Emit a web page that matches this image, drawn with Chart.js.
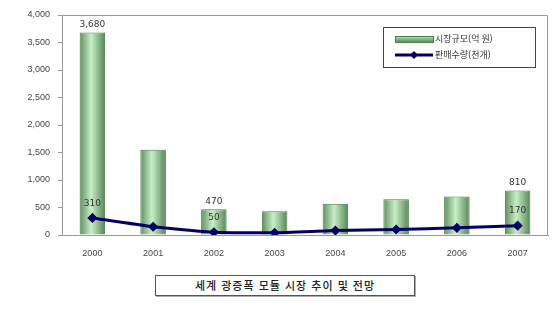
<!DOCTYPE html>
<html lang="ko">
<head>
<meta charset="UTF-8">
<title>세계 광증폭 모듈 시장 추이 및 전망</title>
<script src="https://cdn.jsdelivr.net/npm/chart.js"></script>
<style>
  body { margin: 0; background: #fff; font-family: "Noto Sans CJK KR", sans-serif; }
  #wrap { position: relative; width: 557px; height: 265px; }
  #caption {
    position: absolute; left: 155px; top: 275px; width: 258px; height: 19px;
    border: 1px solid #555; box-shadow: 1px 1px 0 #aaa;
    font-size: 11px; line-height: 19px; text-align: center; color: #222; letter-spacing: 1px;
    font-weight: 500;
  }
</style>
</head>
<body>
<div id="wrap"><canvas id="chart" width="557" height="265"></canvas></div>
<div id="caption">세계 광증폭 모듈 시장 추이 및 전망</div>
<script>
// 연도
const years = ["2000", "2001", "2002", "2003", "2004", "2005", "2006", "2007"];
// 시장규모(억 원)
const marketSize = [3680, 1550, 470, 430, 570, 650, 700, 810];
// 판매수량(천개)
const salesQty = [310, 150, 50, 40, 80, 100, 130, 170];
const yTicks = [0, 500, 1000, 1500, 2000, 2500, 3000, 3500, 4000];
// 값 표시할 위치
const barLabelIdx = [0, 2, 7];
const lineLabelIdx = [0, 2, 7];

function barGradient(ctx) {
  const chart = ctx.chart;
  const xs = chart.scales.x;
  if (!xs || ctx.dataIndex === undefined) return "#9fd49f";
  const cx = xs.getPixelForValue(ctx.dataIndex);
  const w = xs.width / years.length * 0.42;
  if (!isFinite(cx) || !isFinite(w) || w <= 0) return "#9fd49f";
  const g = chart.ctx.createLinearGradient(cx - w / 2, 0, cx + w / 2, 0);
  g.addColorStop(0, "#5f8f5f");
  g.addColorStop(0.45, "#c8efc8");
  g.addColorStop(1, "#558555");
  return g;
}

const labelPlugin = {
  id: "labels",
  afterDatasetsDraw(chart) {
    const c = chart.ctx;
    c.save();
    c.font = "9px 'DejaVu Sans', sans-serif";
    c.fillStyle = "#333";
    c.textAlign = "center";
    const bars = chart.getDatasetMeta(0).data;
    barLabelIdx.forEach(i => {
      c.textBaseline = "bottom";
      c.fillText(marketSize[i].toLocaleString("en-US"), bars[i].x, bars[i].y - 3);
    });
    const pts = chart.getDatasetMeta(1).data;
    lineLabelIdx.forEach(i => {
      c.textBaseline = "bottom";
      c.fillText(String(salesQty[i]), pts[i].x, pts[i].y - 10);
    });
    // legend box
    const lx = 383, ly = 27, lw = 152, lh = 40;
    c.fillStyle = "#fff";
    c.fillRect(lx, ly, lw, lh);
    c.strokeStyle = "#444";
    c.lineWidth = 1;
    c.strokeRect(lx + 0.5, ly + 0.5, lw, lh);
    c.font = "9px 'Noto Sans CJK KR', sans-serif";
    c.textAlign = "left";
    c.textBaseline = "middle";
    const g = c.createLinearGradient(0, ly + 8, 0, ly + 15);
    g.addColorStop(0, "#c8efc8");
    g.addColorStop(1, "#5f8f5f");
    c.fillStyle = g;
    c.fillRect(lx + 12, ly + 9, 38, 6);
    c.strokeStyle = "#4f7f4f";
    c.strokeRect(lx + 12.5, ly + 9.5, 38, 6);
    c.fillStyle = "#333";
    c.fillText(chart.data.datasets[0].label, lx + 52, ly + 12);
    c.strokeStyle = "#000066";
    c.lineWidth = 3;
    c.beginPath();
    c.moveTo(lx + 12, ly + 28);
    c.lineTo(lx + 50, ly + 28);
    c.stroke();
    c.fillStyle = "#000066";
    c.beginPath();
    c.moveTo(lx + 31, ly + 24); c.lineTo(lx + 35, ly + 28); c.lineTo(lx + 31, ly + 32); c.lineTo(lx + 27, ly + 28);
    c.fill();
    c.fillStyle = "#333";
    c.fillText(chart.data.datasets[1].label, lx + 52, ly + 28);
    // plot frame (top/right)
    const a = chart.chartArea;
    c.strokeStyle = "#999";
    c.lineWidth = 1;
    c.beginPath();
    c.moveTo(a.left, a.top + 0.5);
    c.lineTo(a.right - 0.5, a.top + 0.5);
    c.lineTo(a.right - 0.5, a.bottom);
    c.stroke();
    c.restore();
  }
};

new Chart(document.getElementById("chart"), {
  data: {
    labels: years,
    datasets: [
      {
        type: "bar",
        label: "시장규모(억 원)",
        data: marketSize,
        backgroundColor: barGradient,
        borderColor: "#4a7a4a",
        borderWidth: 1,
        barPercentage: 0.42,
        categoryPercentage: 1,
        order: 2
      },
      {
        type: "line",
        label: "판매수량(천개)",
        data: salesQty,
        borderColor: "#000066",
        backgroundColor: "#000066",
        borderWidth: 3,
        pointStyle: "rectRot",
        pointRadius: 3,
        tension: 0.15,
        order: 1
      }
    ]
  },
  options: {
    responsive: false,
    animation: false,
    layout: { padding: { top: 15, right: 9, left: 0, bottom: 0 } },
    plugins: { legend: { display: false }, tooltip: { enabled: false } },
    scales: {
      x: {
        grid: { display: false },
        border: { color: "#999" },
        ticks: { color: "#444", font: { size: 9 }, padding: 5 },
        afterFit: s => { s.height = 30; }
      },
      y: {
        min: 0, max: 4000,
        afterBuildTicks: s => { s.ticks = yTicks.map(v => ({ value: v })); },
        grid: { drawOnChartArea: false, tickLength: 4, color: "#999" },
        border: { color: "#999" },
        ticks: {
          color: "#444", font: { size: 9 }, padding: 8,
          callback: v => v.toLocaleString("en-US")
        },
        afterFit: s => { s.width = 62; }
      }
    }
  },
  plugins: [labelPlugin]
});
</script>
</body>
</html>
